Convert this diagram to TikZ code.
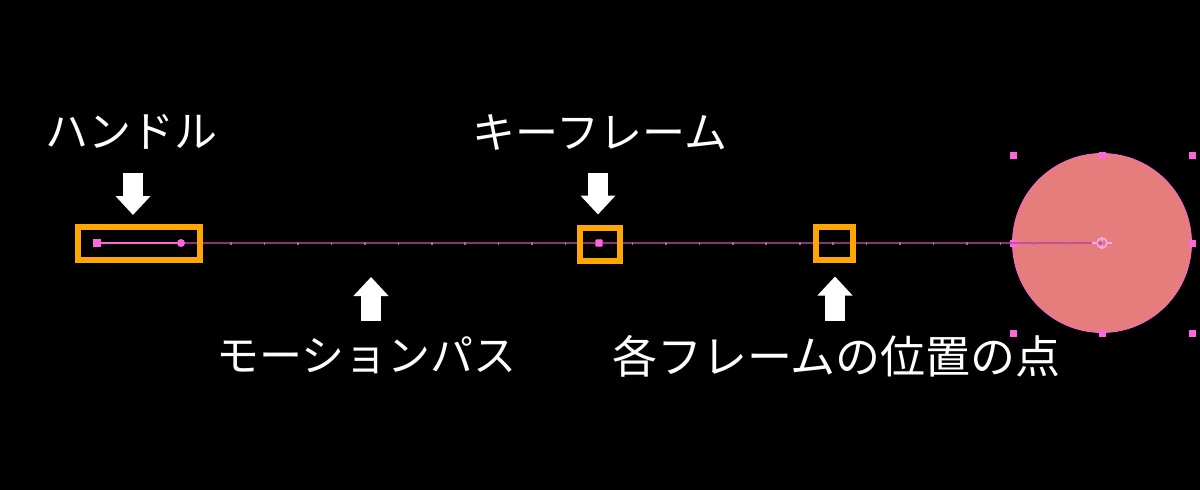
\documentclass[tikz,border=0pt]{standalone}
\usepackage{fontspec}
\newfontfamily\jpfont{Noto Sans CJK JP}
\usetikzlibrary{positioning}
\usetikzlibrary{arrows.meta}

\definecolor{markorange}{RGB}{255,166,0}
\definecolor{pathpink}{RGB}{180,70,160}
\definecolor{tickpink}{RGB}{185,95,170}
\definecolor{knobpink}{RGB}{255,102,221}
\definecolor{ballfill}{RGB}{229,125,125}
\definecolor{pivotpink}{RGB}{245,170,235}

\tikzset{
  caption/.style={text=white, inner sep=0pt, font=\jpfont\fontsize{43}{50}\selectfont},
  markbox/.style={draw=markorange, line width=6pt, inner sep=0pt, minimum height=33pt},
  pointer/.style={white, line width=20pt, -{Triangle[width=34pt,length=19pt]}},
  knob/.style={fill=knobpink, inner sep=0pt, minimum size=7pt},
}

\begin{document}
\begin{tikzpicture}[x=1pt,y=-1pt]
    \fill[black] (0,0) rectangle (1200,490);

    % the ball and its selection knobs
    \node (ball) [circle, fill=ballfill, draw=knobpink, line width=0.8pt,
      minimum size=179pt, inner sep=0pt] at (1102,243) {};
    \foreach \kx/\ky [count=\i] in {1013/155, 1102/155, 1192/155, 1013/243,
      1192/243, 1013/333, 1102/333, 1192/333}
      \node (knob\i) [knob] at (\kx,\ky) {};

    % motion path with its frame ticks
    \node (hsquare) [knob, minimum size=8pt] at (97,243) {};
    \node (hdot) [circle, fill=knobpink, inner sep=0pt, minimum size=8pt] at (181,243) {};
    \draw[pathpink, opacity=.75, line width=2pt] (hdot) -- (ball.center);
    \foreach \k in {-12,...,15}
      \fill[tickpink] ({599+33.45*\k-0.8},241.5) rectangle +(1.6,3);
    \draw[knobpink, line width=1.5pt] (hsquare) -- (hdot);
    \node (kdot) [knob, draw=pathpink, line width=0.6pt, rounded corners=1pt] at (599,243) {};

    % pivot of the ball
    \node (pivot) [circle, draw=pivotpink, line width=1.6pt, inner sep=0pt,
      minimum size=10pt] at (ball.center) {};
    \foreach \a in {0,90,180,270}
      \draw[pivotpink, line width=1.2pt] (pivot.\a) -- +(\a:4);

    % marked spots
    \node (handlebox) [markbox, minimum width=122pt] at (139,243.5) {};
    \node (keybox) [markbox, minimum width=40pt] at (599.5,244) {};
    \node (framebox) [markbox, minimum width=37pt] at (834.5,243) {};

    % captions
    \node (handlelabel) [caption] at (131.5,132) {ハンドル};
    \node (keylabel) [caption] at (600,132) {キーフレーム};
    \node (pathlabel) [caption] at (366.5,355) {モーションパス};
    \node (framelabel) [caption, font=\jpfont\fontsize{45}{52}\selectfont]
      at (836.5,356) {各フレームの位置の点};

    % pointers
    \coordinate (handletail) at (133,173);
    \coordinate (keytail) at (598,173);
    \coordinate (pathtail) at (371,321);
    \coordinate (frametail) at (835,321);
    \draw[pointer, shorten >=9pt] (handletail) -- (handletail |- handlebox.north);
    \draw[pointer, shorten >=10pt] (keytail) -- (keytail |- keybox.north);
    \draw[pointer, shorten >=14pt] (pathtail) -- (pathtail |- handlebox.south);
    \draw[pointer, shorten >=14pt] (frametail) -- (frametail |- framebox.south);
\end{tikzpicture}
\end{document}
